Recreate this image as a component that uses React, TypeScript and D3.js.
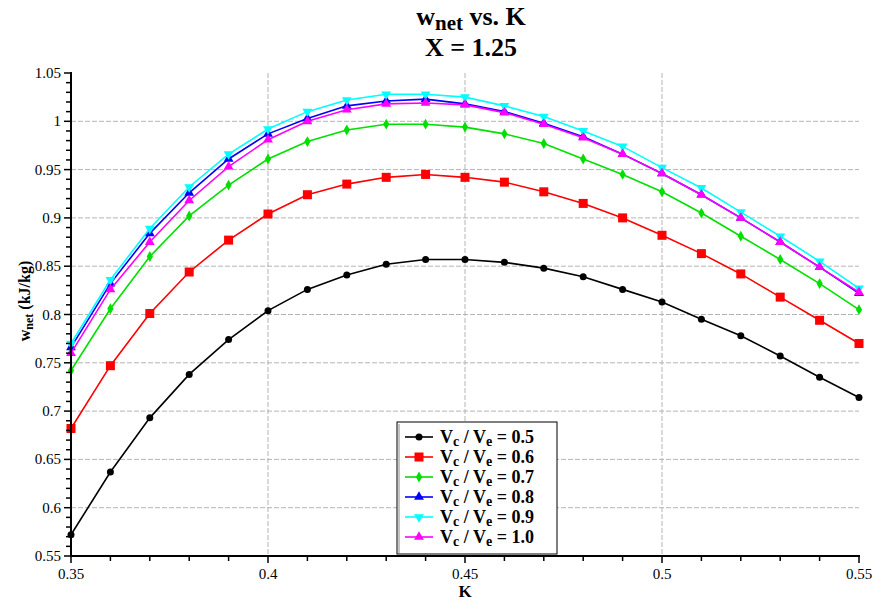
import React from "react";
import * as d3 from "d3";

const kValues = [0.35, 0.36, 0.37, 0.38, 0.39, 0.4, 0.41, 0.42, 0.43, 0.44, 0.45, 0.46, 0.47, 0.48, 0.49, 0.5, 0.51, 0.52, 0.53, 0.54, 0.55];

const s05 = [0.572, 0.637, 0.693, 0.738, 0.774, 0.804, 0.826, 0.841, 0.852, 0.857, 0.857, 0.854, 0.848, 0.839, 0.826, 0.813, 0.795, 0.778, 0.757, 0.735, 0.714];
const s06 = [0.682, 0.747, 0.801, 0.844, 0.877, 0.904, 0.924, 0.935, 0.942, 0.945, 0.942, 0.937, 0.927, 0.915, 0.900, 0.882, 0.863, 0.842, 0.818, 0.794, 0.770];
const s07 = [0.742, 0.806, 0.860, 0.902, 0.934, 0.961, 0.979, 0.991, 0.997, 0.997, 0.994, 0.987, 0.977, 0.961, 0.945, 0.927, 0.905, 0.881, 0.857, 0.832, 0.805];
const s08 = [0.766, 0.832, 0.884, 0.926, 0.961, 0.987, 1.003, 1.016, 1.021, 1.023, 1.018, 1.010, 0.998, 0.984, 0.966, 0.946, 0.924, 0.900, 0.875, 0.849, 0.822];
const s09 = [0.770, 0.836, 0.889, 0.932, 0.966, 0.992, 1.010, 1.022, 1.028, 1.028, 1.025, 1.016, 1.005, 0.990, 0.974, 0.952, 0.931, 0.906, 0.881, 0.855, 0.827];
const s10 = [0.760, 0.826, 0.875, 0.918, 0.953, 0.981, 1.000, 1.012, 1.018, 1.019, 1.017, 1.009, 0.997, 0.983, 0.966, 0.946, 0.924, 0.900, 0.875, 0.849, 0.823];

const seriesNames = ["0.5", "0.6", "0.7", "0.8", "0.9", "1.0"];
const seriesValues = [s05, s06, s07, s08, s09, s10];
const seriesColors = ["#000000", "#ff0000", "#00e000", "#0000ff", "#00ffff", "#ff00ff"];

const xTicks = [0.35, 0.4, 0.45, 0.5, 0.55];
const xTickLabels = ["0.35", "0.4", "0.45", "0.5", "0.55"];
const yTicks = [0.55, 0.6, 0.65, 0.7, 0.75, 0.8, 0.85, 0.9, 0.95, 1.0, 1.05];
const yTickLabels = ["0.55", "0.6", "0.65", "0.7", "0.75", "0.8", "0.85", "0.9", "0.95", "1", "1.05"];

const W = 875;
const H = 603;
const left = 71;
const right = 859;
const top = 73;
const bottom = 556;

const serif = "'Liberation Serif', 'Times New Roman', serif";

function Marker({ idx, x, y, color }: { idx: number; x: number; y: number; color: string }) {
  if (idx === 0) return <circle cx={x} cy={y} r={3.5} fill={color} />;
  if (idx === 1) return <rect x={x - 4.5} y={y - 4.5} width={9} height={9} fill={color} />;
  if (idx === 2) {
    const p = d3.symbol().type(d3.symbolDiamond).size(34)();
    return <path d={p || ""} transform={`translate(${x},${y})`} fill={color} />;
  }
  const tri = d3.symbol().type(d3.symbolTriangle).size(42)();
  const rot = idx === 4 ? 180 : 0;
  return <path d={tri || ""} transform={`translate(${x},${y}) rotate(${rot})`} fill={color} />;
}

export default function App() {
  const x = d3.scaleLinear().domain([0.35, 0.55]).range([left, right]);
  const y = d3.scaleLinear().domain([0.55, 1.05]).range([bottom, top]);
  const line = d3
    .line<number>()
    .x((_, i) => x(kValues[i]))
    .y((d) => y(d));

  const xMinor = d3.range(0, 21).map((i) => 0.35 + i * 0.01);
  const yMinor = d3.range(0, 51).map((i) => 0.55 + i * 0.01);

  const legendX = 397;
  const legendY = 422;

  return (
    <svg width={W} height={H} style={{ position: "absolute", left: 0, top: 0, background: "#fff" }}>
      <rect x={0} y={0} width={W} height={H} fill="#fff" />
      {/* title */}
      <text x={471} y={25} textAnchor="middle" fontFamily={serif} fontWeight="bold" fontSize={26}>
        w<tspan fontSize={21} dy={5}>net</tspan>
        <tspan dy={-5}> vs. K</tspan>
      </text>
      <text x={471} y={56} textAnchor="middle" fontFamily={serif} fontWeight="bold" fontSize={26}>
        X = 1.25
      </text>

      {/* grid */}
      {yTicks
        .filter((t) => t > 0.56 && t < 1.04)
        .map((t) => (
          <line key={"gy" + t} x1={left} x2={right} y1={y(t)} y2={y(t)} stroke="#b4b4b4" strokeWidth={1} strokeDasharray="5,2" />
        ))}
      {xTicks
        .filter((t) => t > 0.36 && t < 0.54)
        .map((t) => (
          <line key={"gx" + t} x1={x(t)} x2={x(t)} y1={top} y2={bottom} stroke="#b4b4b4" strokeWidth={1} strokeDasharray="5,2" />
        ))}

      {/* series */}
      {seriesValues.map((vals, si) => (
        <g key={"s" + si}>
          <path d={line(vals) || ""} fill="none" stroke={seriesColors[si]} strokeWidth={1.6} />
          {vals.map((v, i) => (
            <Marker key={i} idx={si} x={x(kValues[i])} y={y(v)} color={seriesColors[si]} />
          ))}
        </g>
      ))}

      {/* axes */}
      <line x1={left} x2={left} y1={top - 1} y2={bottom + 1} stroke="#000" strokeWidth={2} />
      <line x1={left - 1} x2={right + 1} y1={bottom} y2={bottom} stroke="#000" strokeWidth={2} />
      {xMinor.map((t, i) => (
        <line key={"xt" + i} x1={x(t)} x2={x(t)} y1={bottom} y2={bottom + (i % 5 === 0 ? 7 : 5)} stroke="#000" strokeWidth={1.5} />
      ))}
      {yMinor.map((t, i) => (
        <line key={"yt" + i} x1={left - (i % 5 === 0 ? 7 : 5)} x2={left} y1={y(t)} y2={y(t)} stroke="#000" strokeWidth={1.5} />
      ))}
      {xTicks.map((t, i) => (
        <text key={"xl" + i} x={x(t)} y={bottom + 23} textAnchor="middle" fontFamily={serif} fontSize={15}>
          {xTickLabels[i]}
        </text>
      ))}
      {yTicks.map((t, i) => (
        <text key={"yl" + i} x={left - 10} y={y(t) + 5} textAnchor="end" fontFamily={serif} fontSize={15}>
          {yTickLabels[i]}
        </text>
      ))}

      {/* axis labels */}
      <text x={465} y={597} textAnchor="middle" fontFamily={serif} fontWeight="bold" fontSize={17}>
        K
      </text>
      <text transform={`translate(30, 301) rotate(-90)`} textAnchor="middle" fontFamily={serif} fontWeight="bold" fontSize={16}>
        w<tspan fontSize={12} dy={3}>net</tspan>
        <tspan dy={-3}> (kJ/kg)</tspan>
      </text>

      {/* legend */}
      <rect x={legendX} y={legendY} width={160} height={132} fill="#fff" stroke="#000" strokeWidth={1} />
      <line x1={legendX + 2} x2={legendX + 2} y1={legendY + 2} y2={legendY + 132} stroke="#888" strokeWidth={1} />
      {seriesNames.map((n, i) => {
        const cy = legendY + 15 + i * 20;
        return (
          <g key={"lg" + i}>
            <line x1={legendX + 8} x2={legendX + 36} y1={cy} y2={cy} stroke={seriesColors[i]} strokeWidth={1.6} />
            <Marker idx={i} x={legendX + 22} y={cy} color={seriesColors[i]} />
            <text x={legendX + 43} y={cy + 6} fontFamily={serif} fontWeight="bold" fontSize={18}>
              V<tspan fontSize={14} dy={3}>c</tspan>
              <tspan dy={-3}> / V</tspan>
              <tspan fontSize={14} dy={3}>e</tspan>
              <tspan dy={-3}> = {n}</tspan>
            </text>
          </g>
        );
      })}
    </svg>
  );
}
